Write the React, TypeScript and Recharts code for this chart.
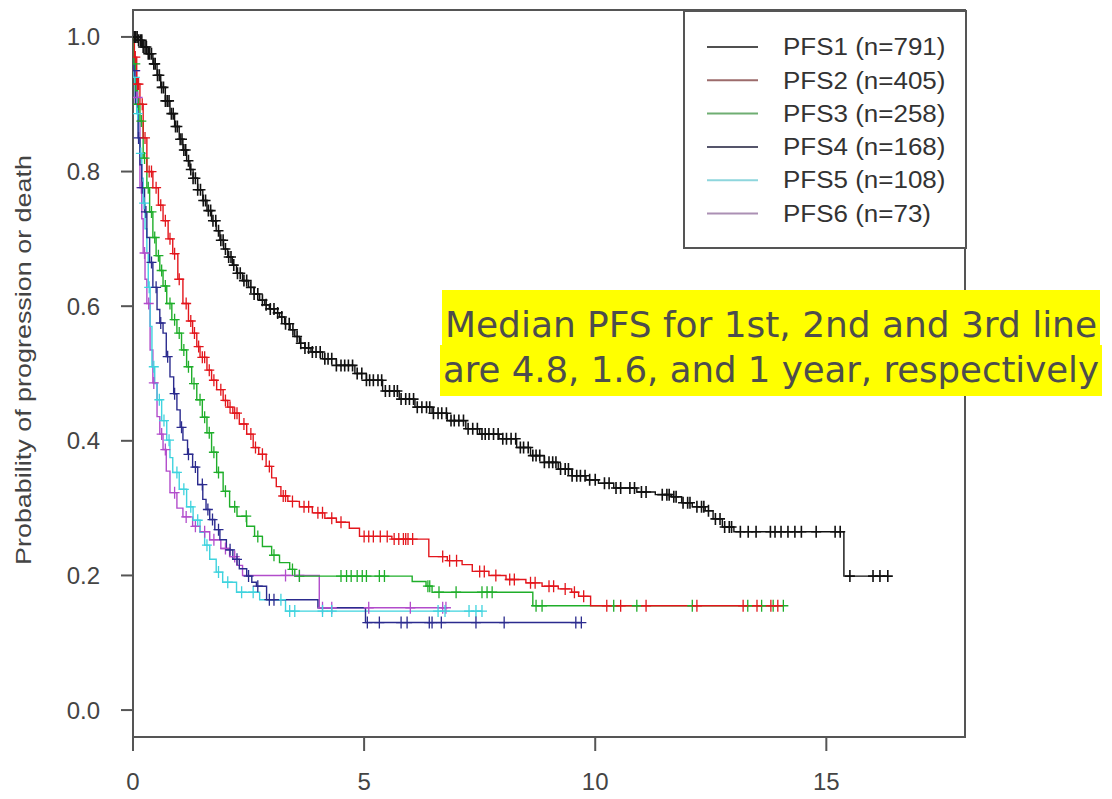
import { LineChart, Line, XAxis, YAxis, ReferenceArea, Legend, Label } from "recharts";

const X_TICKS = [0, 5, 10, 15];
const Y_TICKS = [0, 0.2, 0.4, 0.6, 0.8, 1.0];
const SERIES_NAMES = ["PFS1 (n=791)", "PFS2 (n=405)", "PFS3 (n=258)", "PFS4 (n=168)", "PFS5 (n=108)", "PFS6 (n=73)"];

// step points: time (years) and survival after the drop
const pfs1Time = [0, 0.1, 0.2, 0.3, 0.43, 0.52, 0.6, 0.7, 0.8, 0.9, 1.0, 1.08, 1.16, 1.23, 1.3, 1.4, 1.51, 1.6, 1.7, 1.8, 1.88, 1.96, 2.05, 2.15, 2.24, 2.37, 2.5, 2.62, 2.74, 2.85, 2.95, 3.06, 3.17, 3.28, 3.4, 3.5, 3.6, 3.72, 3.85, 4.1, 4.4, 4.8, 5.05, 5.4, 5.76, 6.1, 6.47, 6.8, 7.2, 7.5, 7.92, 8.3, 8.6, 8.9, 9.2, 9.5, 9.8, 10.07, 10.4, 10.9, 11.3, 11.65, 11.87, 12.1, 12.38, 12.55, 12.75, 13.0, 15.38];
const pfs1Surv = [1, 0.995, 0.985, 0.975, 0.96, 0.943, 0.925, 0.905, 0.886, 0.867, 0.848, 0.832, 0.816, 0.803, 0.79, 0.773, 0.757, 0.742, 0.727, 0.712, 0.698, 0.685, 0.673, 0.661, 0.649, 0.638, 0.628, 0.618, 0.609, 0.602, 0.596, 0.59, 0.584, 0.574, 0.565, 0.555, 0.545, 0.538, 0.532, 0.522, 0.512, 0.5, 0.49, 0.474, 0.462, 0.45, 0.441, 0.43, 0.418, 0.41, 0.403, 0.39, 0.378, 0.368, 0.358, 0.348, 0.342, 0.337, 0.33, 0.324, 0.32, 0.317, 0.308, 0.302, 0.296, 0.284, 0.272, 0.265, 0.199];
const pfs1Censor = [0.03, 0.06, 0.09, 0.12, 0.16, 0.19, 0.22, 0.26, 0.29, 0.33, 0.36, 0.4, 0.45, 0.48, 0.53, 0.57, 0.62, 0.66, 0.7, 0.74, 0.78, 0.83, 0.87, 0.92, 0.96, 1.02, 1.06, 1.1, 1.14, 1.2, 1.25, 1.3, 1.35, 1.4, 1.46, 1.52, 1.57, 1.63, 1.68, 1.73, 1.79, 1.85, 1.9, 1.95, 2.0, 2.07, 2.12, 2.18, 2.26, 2.32, 2.4, 2.46, 2.55, 2.62, 2.7, 2.8, 2.88, 2.97, 3.05, 3.13, 3.22, 3.3, 3.38, 3.46, 3.55, 3.63, 3.72, 3.8, 3.88, 3.96, 4.05, 4.15, 4.22, 4.3, 4.4, 4.5, 4.58, 4.66, 4.75, 4.85, 4.95, 5.05, 5.12, 5.2, 5.3, 5.38, 5.46, 5.55, 5.65, 5.72, 5.8, 5.9, 5.98, 6.07, 6.15, 6.25, 6.35, 6.42, 6.5, 6.6, 6.68, 6.78, 6.88, 6.95, 7.05, 7.15, 7.25, 7.35, 7.45, 7.55, 7.62, 7.7, 7.8, 7.9, 8.0, 8.08, 8.18, 8.28, 8.38, 8.45, 8.55, 8.65, 8.72, 8.8, 8.9, 9.0, 9.08, 9.15, 9.25, 9.35, 9.42, 9.5, 9.6, 9.68, 9.78, 9.88, 10.0, 10.2, 10.3, 10.45, 10.55, 10.75, 10.85, 11.0, 11.1, 11.45, 11.55, 11.6, 11.7, 11.75, 11.9, 12.0, 12.05, 12.2, 12.3, 12.35, 12.45, 12.6, 12.7, 12.8, 12.9, 12.95, 13.14, 13.31, 13.48, 13.79, 13.89, 14.02, 14.17, 14.32, 14.46, 14.78, 15.19, 15.3, 15.51, 16.01, 16.16, 16.33];

const pfs2Time = [0, 0.03, 0.08, 0.15, 0.22, 0.3, 0.43, 0.55, 0.65, 0.76, 0.86, 0.97, 1.08, 1.2, 1.29, 1.38, 1.45, 1.6, 1.7, 1.81, 1.95, 2.05, 2.16, 2.3, 2.46, 2.6, 2.72, 2.88, 3.0, 3.1, 3.2, 3.35, 3.6, 3.88, 4.15, 4.4, 4.68, 4.9, 5.6, 6.4, 6.8, 7.12, 7.34, 7.7, 8.07, 8.5, 8.85, 9.2, 9.49, 9.64, 9.9];
const pfs2Surv = [1, 0.97, 0.93, 0.9, 0.85, 0.8, 0.776, 0.75, 0.727, 0.7, 0.678, 0.64, 0.604, 0.578, 0.56, 0.54, 0.524, 0.505, 0.49, 0.476, 0.46, 0.45, 0.441, 0.425, 0.41, 0.39, 0.38, 0.362, 0.345, 0.332, 0.318, 0.31, 0.302, 0.293, 0.285, 0.279, 0.27, 0.258, 0.254, 0.228, 0.222, 0.216, 0.206, 0.2, 0.194, 0.189, 0.184, 0.18, 0.175, 0.169, 0.155];
const pfs2Censor = [0.05, 0.1, 0.12, 0.2, 0.26, 0.35, 0.4, 0.5, 0.6, 0.7, 0.8, 0.9, 1.0, 1.15, 1.25, 1.33, 1.42, 1.5, 1.55, 1.65, 1.75, 1.9, 2.0, 2.1, 2.2, 2.25, 2.4, 2.55, 2.65, 2.8, 2.95, 3.25, 3.3, 3.45, 3.7, 3.8, 4.0, 4.1, 4.3, 4.5, 5.0, 5.1, 5.2, 5.35, 5.5, 5.65, 5.75, 5.85, 5.9, 5.95, 6.05, 6.7, 6.85, 7.0, 7.5, 7.6, 7.85, 8.15, 8.25, 8.6, 8.7, 9.0, 9.1, 9.35, 9.55, 9.75, 10.25, 10.55, 11.1, 12.2, 13.2, 13.5, 13.8, 13.95];

const pfs3Time = [0, 0.02, 0.06, 0.1, 0.15, 0.22, 0.3, 0.36, 0.43, 0.5, 0.58, 0.65, 0.73, 0.84, 0.95, 1.05, 1.16, 1.27, 1.38, 1.5, 1.6, 1.7, 1.81, 1.95, 2.09, 2.25, 2.46, 2.63, 2.8, 3.0, 3.17, 3.39, 3.5, 6.04, 6.34, 6.47, 8.65];
const pfs3Surv = [1, 0.96, 0.92, 0.9, 0.875, 0.82, 0.776, 0.74, 0.702, 0.675, 0.653, 0.63, 0.604, 0.58, 0.56, 0.535, 0.51, 0.485, 0.461, 0.435, 0.412, 0.383, 0.353, 0.325, 0.302, 0.288, 0.273, 0.258, 0.243, 0.23, 0.219, 0.209, 0.199, 0.191, 0.184, 0.175, 0.155];
const pfs3Censor = [0.05, 0.12, 0.18, 0.25, 0.33, 0.4, 0.47, 0.55, 0.62, 0.7, 0.8, 0.9, 1.0, 1.1, 1.2, 1.32, 1.45, 1.55, 1.65, 1.75, 1.85, 2.0, 2.2, 2.45, 2.7, 3.05, 3.45, 3.6, 4.5, 4.62, 4.72, 4.85, 4.96, 5.05, 5.33, 5.44, 6.38, 6.42, 6.62, 6.99, 7.55, 7.66, 7.77, 8.72, 8.85, 10.4, 10.9, 12.1, 13.3, 13.6, 13.85, 14.07];

const pfs4Time = [0, 0.02, 0.05, 0.11, 0.15, 0.19, 0.25, 0.3, 0.36, 0.43, 0.52, 0.58, 0.65, 0.72, 0.8, 0.88, 0.95, 1.02, 1.08, 1.18, 1.29, 1.4, 1.51, 1.58, 1.66, 1.77, 1.88, 2.02, 2.16, 2.3, 2.46, 2.57, 2.67, 2.89, 4.0, 5.03];
const pfs4Surv = [1, 0.95, 0.9, 0.85, 0.81, 0.776, 0.74, 0.702, 0.665, 0.628, 0.595, 0.575, 0.56, 0.525, 0.495, 0.47, 0.446, 0.42, 0.401, 0.38, 0.361, 0.335, 0.313, 0.298, 0.283, 0.268, 0.253, 0.238, 0.224, 0.21, 0.199, 0.19, 0.184, 0.164, 0.152, 0.13];
const pfs4Censor = [0.04, 0.12, 0.2, 0.28, 0.4, 0.5, 0.6, 0.75, 0.9, 1.05, 1.2, 1.35, 1.5, 1.62, 1.72, 1.85, 2.1, 2.25, 2.5, 2.7, 2.95, 3.05, 5.07, 5.33, 5.8, 5.93, 6.41, 6.47, 6.67, 7.42, 8.03, 9.58, 9.7];

const pfs5Time = [0, 0.02, 0.05, 0.08, 0.12, 0.15, 0.19, 0.22, 0.26, 0.3, 0.33, 0.37, 0.41, 0.47, 0.52, 0.62, 0.73, 0.8, 0.86, 1.0, 1.16, 1.3, 1.45, 1.55, 1.66, 1.8, 1.94, 2.24, 2.74, 3.3];
const pfs5Surv = [1, 0.94, 0.91, 0.886, 0.85, 0.827, 0.79, 0.753, 0.715, 0.679, 0.628, 0.57, 0.51, 0.485, 0.461, 0.43, 0.401, 0.375, 0.353, 0.328, 0.302, 0.282, 0.264, 0.245, 0.224, 0.205, 0.19, 0.175, 0.164, 0.147];
const pfs5Censor = [0.04, 0.1, 0.17, 0.24, 0.35, 0.45, 0.57, 0.67, 0.78, 0.95, 1.1, 1.25, 1.4, 1.6, 1.85, 2.05, 2.35, 2.6, 3.2, 3.39, 3.5, 4.1, 4.3, 6.6, 6.75, 7.27, 7.42, 7.55];

const pfs6Time = [0, 0.02, 0.04, 0.08, 0.11, 0.15, 0.19, 0.22, 0.26, 0.3, 0.37, 0.43, 0.52, 0.58, 0.65, 0.72, 0.8, 0.95, 1.08, 1.29, 1.45, 1.66, 1.9, 2.09, 2.25, 2.37, 4.03];
const pfs6Surv = [1, 0.97, 0.95, 0.91, 0.875, 0.776, 0.73, 0.679, 0.64, 0.604, 0.535, 0.486, 0.436, 0.41, 0.387, 0.355, 0.323, 0.3, 0.287, 0.273, 0.265, 0.253, 0.24, 0.228, 0.215, 0.2, 0.152];
const pfs6Censor = [0.05, 0.1, 0.18, 0.25, 0.34, 0.45, 0.62, 0.7, 0.9, 1.15, 1.35, 1.55, 1.75, 2.0, 2.2, 3.3, 3.6, 4.1, 4.3, 5.1, 6.0, 6.7, 6.77];

const COLORS = ["#111111", "#e3161c", "#1fae2a", "#2b2b8e", "#3fd3de", "#b24ccb"];
const LEGEND_COLORS = ["#505050", "#9c6b6b", "#6fae72", "#55556b", "#8ed6dd", "#ab90b4"];

type Row = { t: number; s: number; c: boolean };

function survAt(times: number[], surv: number[], t: number) {
  let s = surv[0];
  for (let i = 0; i < times.length; i++) if (times[i] <= t) s = surv[i];
  return s;
}

function buildRows(times: number[], surv: number[], censor: number[]): Row[] {
  const rows: Row[] = times.map((t, i) => ({ t, s: surv[i], c: false }));
  censor.forEach((t) => rows.push({ t, s: survAt(times, surv, t), c: true }));
  return rows.sort((a, b) => a.t - b.t || (a.c ? 1 : 0) - (b.c ? 1 : 0));
}

const SERIES = [
  { name: SERIES_NAMES[0], rows: buildRows(pfs1Time, pfs1Surv, pfs1Censor) },
  { name: SERIES_NAMES[1], rows: buildRows(pfs2Time, pfs2Surv, pfs2Censor) },
  { name: SERIES_NAMES[2], rows: buildRows(pfs3Time, pfs3Surv, pfs3Censor) },
  { name: SERIES_NAMES[3], rows: buildRows(pfs4Time, pfs4Surv, pfs4Censor) },
  { name: SERIES_NAMES[4], rows: buildRows(pfs5Time, pfs5Surv, pfs5Censor) },
  { name: SERIES_NAMES[5], rows: buildRows(pfs6Time, pfs6Surv, pfs6Censor) },
].map((s, i) => ({ ...s, color: COLORS[i], legendColor: LEGEND_COLORS[i] }));

const censorDot = (color: string, w: number) => (props: any) => {
  const { cx, cy, payload, index } = props;
  if (!payload || !payload.c || cx == null || cy == null) return <g key={`n${index}`} />;
  return (
    <path
      key={`c${index}`}
      d={`M${cx - 5},${cy}H${cx + 5}M${cx},${cy - 6}V${cy + 6}`}
      stroke={color}
      strokeWidth={w}
      fill="none"
    />
  );
};

function KMLegend() {
  return (
    <svg width={284} height={239}>
      <rect x={1} y={1} width={282} height={237} fill="#fff" stroke="#555" strokeWidth={2} />
      {SERIES.map((s, i) => {
        const y = 37 + i * 33.3;
        return (
          <g key={s.name}>
            <line x1={24} x2={75} y1={y} y2={y} stroke={s.legendColor} strokeWidth={2} />
            <text
              transform={`translate(100,${y}) scale(1.13,1)`}
              dy="0.36em"
              fontSize={23}
              fill="#333"
              fontFamily="'Liberation Sans', Arial, sans-serif"
            >
              {s.name}
            </text>
          </g>
        );
      })}
    </svg>
  );
}

const tickStyle = { fontSize: 24, fill: "#444", fontFamily: "'Liberation Sans', Arial, sans-serif" };

export default function App() {
  return (
    <div style={{ position: "absolute", left: 0, top: 0, width: 1112, height: 799, background: "#fff" }}>
      <LineChart width={1112} height={799} margin={{ top: 10, right: 147, bottom: 12, left: 0 }}>
        <XAxis
          type="number"
          dataKey="t"
          domain={[0, 18]}
          ticks={X_TICKS}
          allowDataOverflow
          height={50}
          axisLine={false}
          tickSize={14}
          tickMargin={22}
          tickLine={{ stroke: "#555", strokeWidth: 2 }}
          tick={tickStyle}
        />
        <YAxis
          type="number"
          dataKey="s"
          domain={[-0.04, 1.04]}
          ticks={Y_TICKS}
          allowDataOverflow
          width={133}
          axisLine={false}
          tickSize={12}
          tickMargin={21}
          tickLine={{ stroke: "#555", strokeWidth: 2 }}
          tick={tickStyle}
          tickFormatter={(v: number) => v.toFixed(1)}
        >
          <Label
            content={() => (
              <text
                transform="translate(31,360) rotate(-90)"
                textAnchor="middle"
                fontSize={22}
                fill="#444"
                fontFamily="'Liberation Sans', Arial, sans-serif"
                textLength={410}
                lengthAdjust="spacingAndGlyphs"
              >
                Probability of progression or death
              </text>
            )}
          />
        </YAxis>
        <ReferenceArea x1={0} x2={18} y1={-0.04} y2={1.04} fill="none" stroke="#555" strokeWidth={2} ifOverflow="visible" />
        {SERIES.slice()
          .reverse()
          .map((s, k) => (
            <Line
              key={s.name}
              name={s.name}
              data={s.rows}
              dataKey="s"
              type="stepAfter"
              stroke={s.color}
              strokeWidth={1.4}
              dot={censorDot(s.color, k === SERIES.length - 1 ? 1.6 : 1.3)}
              activeDot={false}
              isAnimationActive={false}
            />
          ))}
        <Legend
          layout="horizontal"
          verticalAlign="middle"
          align="center"
          content={() => <KMLegend />}
          wrapperStyle={{ position: "absolute", left: 683, top: 10, width: 284, height: 239 }}
        />
      </LineChart>
      <svg width={1112} height={799} style={{ position: "absolute", left: 0, top: 0, pointerEvents: "none" }}>
        <rect x={442} y={290} width={658} height={55} fill="#ffff00" />
        <rect x={440} y={345} width={662} height={51} fill="#ffff00" />
        <text
          x={445}
          y={337}
          fontSize={36}
          fill="#4d4d4d"
          fontFamily="'DejaVu Sans Condensed', 'DejaVu Sans', sans-serif"
          textLength={652}
          lengthAdjust="spacingAndGlyphs"
        >
          Median PFS for 1st, 2nd and 3rd line
        </text>
        <text
          x={443}
          y={382}
          fontSize={36}
          fill="#4d4d4d"
          fontFamily="'DejaVu Sans Condensed', 'DejaVu Sans', sans-serif"
          textLength={656}
          lengthAdjust="spacingAndGlyphs"
        >
          are 4.8, 1.6, and 1 year, respectively
        </text>
      </svg>
    </div>
  );
}
